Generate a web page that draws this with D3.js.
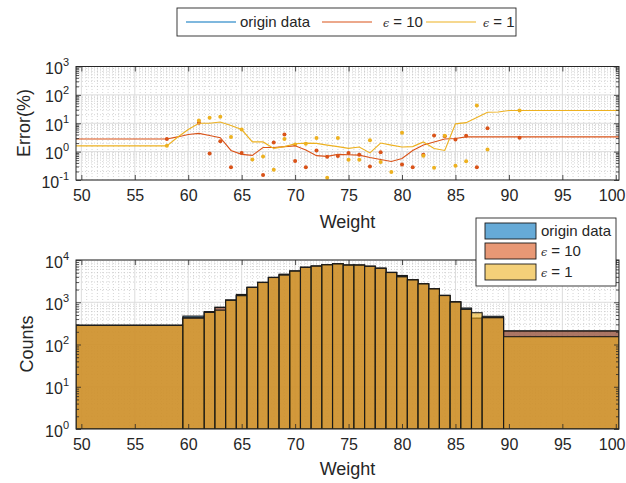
<!DOCTYPE html>
<html><head><meta charset="utf-8">
<script src="https://cdn.jsdelivr.net/npm/d3@7"></script>
<style>
body{margin:0;background:#fff}
text{font-family:"Liberation Sans",Arial,Helvetica,sans-serif;fill:#262626}
</style>
</head><body>
<svg id="c" width="626" height="483"></svg>
<script>
// ---------------- data ----------------
const seriesNames = ["origin data", "= 10", "= 1"];
const seriesColors = ["#0072BD", "#D95319", "#EDB120"];
const xTicks = [50, 55, 60, 65, 70, 75, 80, 85, 90, 95, 100];
const errTicks = [0.1, 1, 10, 100, 1000];
const countTicks = [1, 10, 100, 1000, 10000];

// smoothed error lines (Error %)
const lineWeights = [49.5, 58, 59, 60, 61, 62, 63, 64, 65, 66, 67, 68, 69, 70, 71, 72, 73, 74, 75,
  76, 77, 78, 79, 80, 81, 82, 83, 84, 85, 86, 87, 88, 89, 90, 91, 100.3];
const lineOrigin = [0, 0, 0, 0, 0, 0, 0, 0, 0, 0, 0, 0, 0, 0, 0, 0, 0, 0, 0,
  0, 0, 0, 0, 0, 0, 0, 0, 0, 0, 0, 0, 0, 0, 0, 0, 0];
const lineEps10 = [2.8, 2.8, 3.3, 4.0, 4.4, 3.7, 3.1, 1.1, 0.8, 0.74, 1.4, 1.4, 1.5, 1.6, 1.15, 0.72, 0.68, 0.8, 0.78,
  0.75, 0.62, 0.53, 0.45, 0.57, 1.1, 1.7, 2.2, 2.8, 2.9, 3.3, 3.3, 3.3, 3.3, 3.3, 3.3, 3.3];
const lineEps1 = [1.6, 1.6, 3.2, 6.0, 10, 10, 11, 8.4, 6.0, 2.2, 2.2, 1.3, 1.5, 1.9, 2.0, 1.95, 1.7, 1.5, 1.3,
  1.45, 0.9, 2.0, 1.7, 1.45, 1.5, 2.2, 1.28, 1.1, 9.5, 10.5, 16, 24.5, 25, 28, 28, 28];

// raw error points
const dotWeights = [58, 61, 62, 63, 64, 65, 66, 67, 68, 69, 70, 71, 72, 73, 74, 75, 76, 77, 78, 79, 80,
  81, 82, 83, 84, 85, 86, 87, 88, 91];
const dotEps10 = [2.8, 10.5, 0.86, 2.3, 0.28, 0.9, null, 0.15, 2.1, 4.0, 0.47, 0.28, 1.1, 0.66, 0.7, 0.9, 0.77, 0.3, 0.96, null, 0.35,
  0.28, 0.78, 3.7, 3.5, 2.7, 3.6, 0.28, 6.7, 3.1];
const dotEps1 = [1.6, 12.5, 15.5, 17, 3.3, 6.0, 0.53, 0.68, 0.23, 2.8, 1.8, 1.9, 3.0, 0.12, 3.0, 0.52, 0.52, 2.5, 0.43, 0.19, 4.6,
  null, 0.72, 0.27, 3.6, 0.32, 0.46, 42, 1.2, 28];

// histogram
const binEdges = [49.5, 59.5, 61.5, 62.5, 63.5, 64.5, 65.5, 66.5, 67.5, 68.5, 69.5, 70.5, 71.5, 72.5, 73.5,
  74.5, 75.5, 76.5, 77.5, 78.5, 79.5, 80.5, 81.5, 82.5, 83.5, 84.5, 85.5, 86.5, 87.5, 89.5, 100.3];
const countsOrigin = [285, 470, 600, 760, 1130, 1530, 2260, 2960, 3880, 4620, 5500, 6750, 7200, 7750, 8150,
  7600, 7600, 7120, 6400, 5100, 4300, 3420, 2750, 2090, 1460, 1030, 730, 415, 465, 210];
const countsEps10 = [285, 430, 590, 755, 1120, 1440, 2250, 2950, 3860, 4450, 5480, 6700, 7170, 7720, 8100,
  7580, 7580, 7100, 6380, 5080, 4050, 3400, 2730, 2080, 1450, 1020, 690, 420, 435, 208];
const countsEps1 = [283, 420, 575, 650, 1110, 1430, 2240, 2930, 3850, 4400, 5450, 6680, 7150, 7700, 8080,
  7560, 7560, 7080, 6350, 5050, 4000, 3380, 2720, 2070, 1440, 1010, 680, 565, 430, 153];

// ---------------- drawing ----------------
const svg = d3.select("#c");
const axCol = "#262626";
const L = 76, R = 619;
const x = d3.scaleLinear().domain([49.5, 100.3]).range([L, R]);
const yTop = d3.scaleLog().domain([0.1, 1000]).range([180, 66.5]);
const yBot = d3.scaleLog().domain([1, 10000]).range([429, 260]);

function minorLog(domain) {
  const out = [];
  for (let e = Math.round(Math.log10(domain[0])); e < Math.round(Math.log10(domain[1])); e++) {
    for (let m = 2; m <= 9; m++) out.push(m * Math.pow(10, e));
  }
  return out;
}
const xMinor = d3.range(50, 100.31, 0.5).filter(v => v % 5 !== 0);

function drawGrid(g, y, decades) {
  const [y0, y1] = y.range();
  g.selectAll(".mx").data(xMinor).enter().append("line")
    .attr("x1", d => x(d)).attr("x2", d => x(d)).attr("y1", y0).attr("y2", y1)
    .attr("stroke", "#b8b8b8").attr("stroke-width", 0.6).attr("stroke-dasharray", "1,2");
  g.selectAll(".my").data(minorLog(y.domain())).enter().append("line")
    .attr("x1", L).attr("x2", R).attr("y1", d => y(d)).attr("y2", d => y(d))
    .attr("stroke", "#b8b8b8").attr("stroke-width", 0.6).attr("stroke-dasharray", "1,2");
  g.selectAll(".Mx").data(xTicks).enter().append("line")
    .attr("x1", d => x(d)).attr("x2", d => x(d)).attr("y1", y0).attr("y2", y1)
    .attr("stroke", "#dcdcdc").attr("stroke-width", 1);
  g.selectAll(".My").data(decades).enter().append("line")
    .attr("x1", L).attr("x2", R).attr("y1", d => y(d)).attr("y2", d => y(d))
    .attr("stroke", "#dcdcdc").attr("stroke-width", 1);
}

function drawAxes(g, y, decades) {
  const [y0, y1] = y.range();
  const bottom = g.append("g").attr("transform", `translate(0,${y0})`)
    .call(d3.axisBottom(x).tickValues(xTicks).tickSize(-5).tickSizeOuter(0).tickPadding(10));
  const top = g.append("g").attr("transform", `translate(0,${y1})`)
    .call(d3.axisTop(x).tickValues(xTicks).tickSize(-5).tickSizeOuter(0).tickFormat(() => ""));
  const left = g.append("g").attr("transform", `translate(${L},0)`)
    .call(d3.axisLeft(y).tickValues(decades).tickSize(-5).tickSizeOuter(0).tickFormat(() => ""));
  const right = g.append("g").attr("transform", `translate(${R},0)`)
    .call(d3.axisRight(y).tickValues(decades).tickSize(-5).tickSizeOuter(0).tickFormat(() => ""));
  const leftMinor = g.append("g").attr("transform", `translate(${L},0)`)
    .call(d3.axisLeft(y).tickValues(minorLog(y.domain())).tickSize(-3).tickSizeOuter(0).tickFormat(() => ""));
  const rightMinor = g.append("g").attr("transform", `translate(${R},0)`)
    .call(d3.axisRight(y).tickValues(minorLog(y.domain())).tickSize(-3).tickSizeOuter(0).tickFormat(() => ""));
  [bottom, top, left, right, leftMinor, rightMinor].forEach(a => {
    a.select(".domain").remove();
    a.selectAll("line").attr("stroke", axCol).attr("stroke-width", 0.8);
  });
  bottom.selectAll("text").attr("font-size", 16).attr("fill", axCol)
    .style("font-family", '"Liberation Sans",Arial,sans-serif').attr("dy", "0.71em");
  // keep the last label inside the picture
  bottom.selectAll(".tick").filter(d => d === 100).select("text")
    .attr("text-anchor", "end").attr("x", 625 - x(100));
  left.selectAll(".tick").each(function (d) {
    const t = d3.select(this).append("text").attr("x", -7).attr("y", 7)
      .attr("text-anchor", "end").attr("fill", axCol);
    const e = Math.round(Math.log10(d));
    t.append("tspan").attr("font-size", 16).text("10");
    t.append("tspan").attr("font-size", 11).attr("dy", -8).text(e < 0 ? "-" + (-e) : String(e));
  });
  g.append("rect").attr("x", L).attr("y", y1).attr("width", R - L).attr("height", y0 - y1)
    .attr("fill", "none").attr("stroke", axCol).attr("stroke-width", 1);
}

svg.append("defs").call(d => {
  d.append("clipPath").attr("id", "clipTop").append("rect")
    .attr("x", L).attr("y", 66.5).attr("width", R - L).attr("height", 180 - 66.5);
  d.append("clipPath").attr("id", "clipBot").append("rect")
    .attr("x", L).attr("y", 260).attr("width", R - L).attr("height", 429 - 260);
});

// ---- top panel ----
const gTop = svg.append("g");
drawGrid(gTop, yTop, errTicks);
const plotTop = gTop.append("g").attr("clip-path", "url(#clipTop)");
const lineSeries = [lineOrigin, lineEps10, lineEps1];
const dotSeries = [null, dotEps10, dotEps1];
const line = d3.line().defined(d => d[1] > 0).x(d => x(d[0])).y(d => yTop(d[1]));
[1, 2].forEach(si => {
  plotTop.selectAll(".dot" + si).data(dotWeights.map((w, i) => [w, dotSeries[si][i]]).filter(d => d[1] != null && d[1] > 0))
    .enter().append("circle").attr("cx", d => x(d[0])).attr("cy", d => yTop(d[1])).attr("r", 2)
    .attr("fill", seriesColors[si]);
});
[0, 1, 2].forEach(si => {
  plotTop.append("path").datum(lineWeights.map((w, i) => [w, lineSeries[si][i]]))
    .attr("d", line).attr("fill", "none").attr("stroke", seriesColors[si]).attr("stroke-width", 1.1);
});
drawAxes(gTop, yTop, errTicks);
gTop.append("text").attr("x", (L + R) / 2).attr("y", 228).attr("text-anchor", "middle").attr("font-size", 18).text("Weight");
gTop.append("text").attr("transform", "translate(30,123) rotate(-90)").attr("text-anchor", "middle").attr("font-size", 18).text("Error(%)");

// ---- bottom panel ----
const gBot = svg.append("g");
drawGrid(gBot, yBot, countTicks);
const plotBot = gBot.append("g").attr("clip-path", "url(#clipBot)");
const countSeries = [countsOrigin, countsEps10, countsEps1];
countSeries.forEach((cs, si) => {
  plotBot.append("g").selectAll("rect").data(cs.map((c, i) => ({ x0: binEdges[i], x1: binEdges[i + 1], c })))
    .enter().append("rect")
    .attr("x", d => x(d.x0)).attr("width", d => x(d.x1) - x(d.x0))
    .attr("y", d => yBot(d.c)).attr("height", d => yBot(1) - yBot(d.c))
    .attr("fill", seriesColors[si]).attr("fill-opacity", 0.6)
    .attr("stroke", "#1a1a1a").attr("stroke-width", 1.1);
});
drawAxes(gBot, yBot, countTicks);
gBot.append("text").attr("x", (L + R) / 2).attr("y", 475).attr("text-anchor", "middle").attr("font-size", 18).text("Weight");
gBot.append("text").attr("transform", "translate(33,344) rotate(-90)").attr("text-anchor", "middle").attr("font-size", 18).text("Counts");

function legendLabel(t, name) {
  if (name.startsWith("=")) {
    t.append("tspan").style("font-family", '"DejaVu Serif",serif').attr("font-style", "italic").attr("font-size", 11).text("\u03f5");
    t.append("tspan").text(" " + name);
  } else t.text(name);
}

// ---- top legend ----
const lg = svg.append("g");
lg.append("rect").attr("x", 177).attr("y", 8).attr("width", 339).attr("height", 28)
  .attr("fill", "#fff").attr("stroke", axCol).attr("stroke-width", 0.9);
const lineX0 = [186, 322, 426], textX = [240, 383, 483];
seriesNames.forEach((n, i) => {
  lg.append("line").attr("x1", lineX0[i]).attr("x2", lineX0[i] + 50).attr("y1", 22).attr("y2", 22)
    .attr("stroke", seriesColors[i]).attr("stroke-width", 1.1);
  const t = lg.append("text").attr("x", textX[i]).attr("y", 27).attr("font-size", 15).attr("fill", "#000");
  legendLabel(t, n);
});

// ---- bottom legend ----
const lb = svg.append("g");
lb.append("rect").attr("x", 476).attr("y", 218).attr("width", 140).attr("height", 68)
  .attr("fill", "#fff").attr("stroke", axCol).attr("stroke-width", 0.9);
const rowY = [231, 251, 272];
seriesNames.forEach((n, i) => {
  lb.append("rect").attr("x", 485).attr("y", rowY[i] - 8).attr("width", 51).attr("height", 16)
    .attr("fill", seriesColors[i]).attr("fill-opacity", 0.6).attr("stroke", "#1a1a1a").attr("stroke-width", 0.9);
  const t = lb.append("text").attr("x", 541).attr("y", rowY[i] + 5).attr("font-size", 15).attr("fill", "#000");
  legendLabel(t, n);
});
</script>
</body></html>
